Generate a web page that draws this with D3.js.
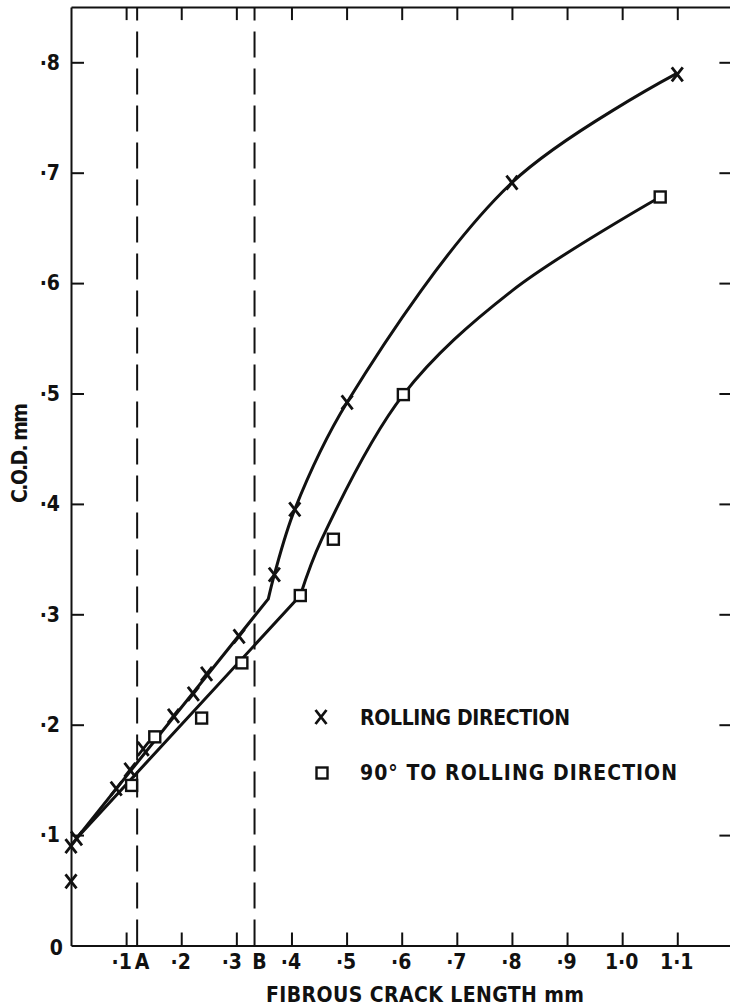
<!DOCTYPE html>
<html>
<head>
<meta charset="utf-8">
<script src="https://cdn.jsdelivr.net/npm/d3@7"></script>
<style>
  html, body { margin: 0; padding: 0; background: #fff; }
  svg { display: block; }
  text {
    font-family: "DejaVu Sans Condensed", "DejaVu Sans", "Liberation Sans Narrow", sans-serif;
    font-stretch: condensed;
    font-weight: bold;
    fill: #111;
  }
  .axis path, .axis line { stroke: #111; stroke-width: 2; }
  .axis text, .tick-extra { font-size: 21px; }
  .title { font-size: 21px; }
  .legend-text { font-size: 21px; }
  .fit { fill: none; stroke: #111; stroke-width: 3; stroke-linecap: round; stroke-linejoin: round; }
  .zone { stroke: #111; stroke-width: 2; stroke-dasharray: 26 11; }
  .mark-x { fill: none; stroke: #111; stroke-width: 2.8; stroke-linecap: butt; }
  .mark-sq { fill: #fff; stroke: #111; stroke-width: 2.4; }
</style>
</head>
<body>
<svg id="chart" width="730" height="1008"></svg>
<script>
// Measured points: rolling direction (x markers)
const rollingLength = [0, 0, 0.01, 0.082, 0.107, 0.131, 0.186, 0.222, 0.246, 0.305, 0.369, 0.406, 0.501, 0.80, 1.10];
const rollingCOD    = [0.058, 0.090, 0.097, 0.142, 0.159, 0.178, 0.208, 0.228, 0.246, 0.280, 0.336, 0.395, 0.492, 0.691, 0.789];

// Measured points: 90° to rolling direction (square markers)
const transLength = [0.110, 0.152, 0.237, 0.310, 0.416, 0.476, 0.603, 1.069];
const transCOD    = [0.145, 0.189, 0.206, 0.256, 0.317, 0.368, 0.499, 0.678];

// Hand-drawn fitted curves: straight up to the knee, smooth beyond it
const rollingFitLength = [0.01, 0.358, 0.369, 0.406, 0.501, 0.80, 1.096];
const rollingFitCOD    = [0.097, 0.314, 0.336, 0.395, 0.492, 0.691, 0.789];
const transFitLength   = [0.01, 0.416, 0.455, 0.603, 0.80, 1.069];
const transFitCOD      = [0.097, 0.317, 0.368, 0.499, 0.593, 0.678];

// Zone boundaries A and B
const zoneNames = ["A", "B"];
const zoneLength = [0.12, 0.333];

// Axis ticks
const xTicks = [0.1, 0.2, 0.3, 0.4, 0.5, 0.6, 0.7, 0.8, 0.9, 1.0, 1.1];
const yTicks = [0.1, 0.2, 0.3, 0.4, 0.5, 0.6, 0.7, 0.8];

const legendLabels = ["ROLLING DIRECTION", "90° TO ROLLING DIRECTION"];

const svg = d3.select("#chart");
const x = d3.scaleLinear().domain([0, 1.2]).range([71, 732.4]);
const y = d3.scaleLinear().domain([0, 0.85]).range([945.5, 7.1]);

const fmtX = d => d < 1 ? "·" + Math.round(d * 10) : d.toFixed(1).replace(".", "·");
const fmtY = d => "·" + Math.round(d * 10);

function styleAxis(g) {
  g.attr("class", "axis").attr("font-family", null).attr("font-size", null);
  g.selectAll("text").attr("fill", null);
}

// Frame with inward ticks on all four sides
const bottomAxis = svg.append("g").attr("transform", `translate(0,${y(0)})`)
  .call(d3.axisBottom(x).tickValues(xTicks).tickSizeInner(-13).tickSizeOuter(0).tickPadding(9).tickFormat(fmtX))
  .call(styleAxis);
// labels sitting next to a zone letter are nudged left
bottomAxis.selectAll(".tick text").attr("dx", d => (d === 0.1 || d === 0.3) ? -5 : -1);

svg.append("g").attr("transform", `translate(${x(0)},0)`)
  .call(d3.axisLeft(y).tickValues(yTicks).tickSizeInner(-13).tickSizeOuter(0).tickPadding(11).tickFormat(fmtY))
  .call(styleAxis);
svg.append("g").attr("transform", `translate(0,${y(0.85)})`)
  .call(d3.axisTop(x).tickValues(xTicks).tickSizeInner(-13).tickSizeOuter(0).tickFormat(""))
  .call(styleAxis);
svg.append("g").attr("transform", `translate(${x(1.2)},0)`)
  .call(d3.axisRight(y).tickValues(yTicks).tickSizeInner(-13).tickSizeOuter(0).tickFormat(""))
  .call(styleAxis);

// Origin label
svg.append("text").attr("class", "tick-extra")
  .attr("x", x(0) - 8).attr("y", y(0) + 2).attr("dy", "0.35em")
  .attr("text-anchor", "end").text("0");

// Dashed zone boundaries
svg.selectAll("line.zone").data(zoneLength).join("line")
  .attr("class", "zone")
  .attr("x1", d => x(d)).attr("x2", d => x(d))
  .attr("y1", y(0)).attr("y2", y(0.85));
svg.selectAll("text.zone-label").data(zoneLength).join("text")
  .attr("class", "zone-label tick-extra")
  .attr("x", d => x(d) + 5).attr("y", y(0) + 9).attr("dy", "0.71em")
  .attr("text-anchor", "middle")
  .text((d, i) => zoneNames[i]);

// Fitted curves
function fitPath(xs, ys, knee) {
  const pts = xs.map((v, i) => [x(v), y(ys[i])]);
  const straight = d3.line()(pts.slice(0, knee + 1));
  const smooth = d3.line().curve(d3.curveCatmullRom.alpha(0.5))(pts.slice(knee));
  return straight + smooth;
}
svg.append("path").attr("class", "fit").attr("d", fitPath(rollingFitLength, rollingFitCOD, 1));
svg.append("path").attr("class", "fit").attr("d", fitPath(transFitLength, transFitCOD, 1));

// Marker shapes
const crossPath = "M-5.5,-7L5.5,7M-5.5,7L5.5,-7";
function drawCross(sel) { sel.append("path").attr("class", "mark-x").attr("d", crossPath); }
function drawSquare(sel) { sel.append("rect").attr("class", "mark-sq").attr("x", -5.5).attr("y", -5.5).attr("width", 11).attr("height", 11); }

svg.selectAll("g.pt-sq").data(transLength).join("g")
  .attr("class", "pt-sq")
  .attr("transform", (d, i) => `translate(${x(d)},${y(transCOD[i])})`)
  .call(drawSquare);
svg.selectAll("g.pt-x").data(rollingLength).join("g")
  .attr("class", "pt-x")
  .attr("transform", (d, i) => `translate(${x(d)},${y(rollingCOD[i])})`)
  .call(drawCross);

// Legend
const legend = svg.append("g");
legend.append("g").attr("transform", "translate(321,717)").call(drawCross);
legend.append("g").attr("transform", "translate(322,773)").call(drawSquare);
legend.append("text").attr("class", "legend-text")
  .attr("x", 360).attr("y", 725).attr("textLength", 210).attr("lengthAdjust", "spacing")
  .text(legendLabels[0]);
legend.append("text").attr("class", "legend-text")
  .attr("x", 360).attr("y", 780).attr("textLength", 317).attr("lengthAdjust", "spacing")
  .text(legendLabels[1]);

// Axis titles
svg.append("text").attr("class", "title")
  .attr("x", 425).attr("y", 1002).attr("text-anchor", "middle")
  .attr("textLength", 318).attr("lengthAdjust", "spacing")
  .text("FIBROUS  CRACK  LENGTH  mm");
svg.append("text").attr("class", "title")
  .attr("transform", "translate(27,453) rotate(-90)")
  .attr("text-anchor", "middle")
  .attr("textLength", 100).attr("lengthAdjust", "spacing")
  .text("C.O.D.  mm");
</script>
</body>
</html>
